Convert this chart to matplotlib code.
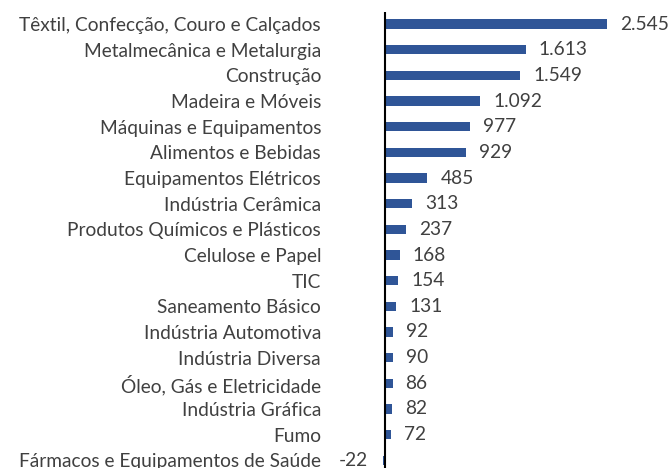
import matplotlib
matplotlib.use("Agg")
import matplotlib.pyplot as plt

categories = [
    "Têxtil, Confecção, Couro e Calçados",
    "Metalmecânica e Metalurgia",
    "Construção",
    "Madeira e Móveis",
    "Máquinas e Equipamentos",
    "Alimentos e Bebidas",
    "Equipamentos Elétricos",
    "Indústria Cerâmica",
    "Produtos Químicos e Plásticos",
    "Celulose e Papel",
    "TIC",
    "Saneamento Básico",
    "Indústria Automotiva",
    "Indústria Diversa",
    "Óleo, Gás e Eletricidade",
    "Indústria Gráfica",
    "Fumo",
    "Fármacos e Equipamentos de Saúde",
]
values = [2545, 1613, 1549, 1092, 977, 929, 485, 313, 237, 168, 154, 131, 92, 90, 86, 82, 72, -22]

plt.rcParams["font.family"] = ["Lato", "DejaVu Sans"]
text_color = "#404040"
bar_color = "#2F5597"
fs = 13.8

W, H = 670, 468
fig = plt.figure(figsize=(W / 100, H / 100), dpi=100)

# zero line at x=385px, 2545 ends at 607px
px_per_unit = (607 - 385) / 2545
x_left = -100
x_right = (W - 385) / px_per_unit
ax_left_px = 385 + x_left * px_per_unit
ax = fig.add_axes([ax_left_px / W, 0, (W - ax_left_px) / W, (H - 12) / H])

y = range(len(categories))
ax.barh(y, values, height=0.36, color=bar_color)
ax.axvline(0, color="black", lw=1.5)

for yi, v in zip(y, values):
    label = f"{v:,}".replace(",", ".")
    if v >= 0:
        ax.text(v + 13 / px_per_unit, yi, label, va="center", ha="left",
                fontsize=fs, color=text_color)
    else:
        ax.text(v - 15 / px_per_unit, yi, label, va="center", ha="right",
                fontsize=fs, color=text_color)

ax.set_xlim(x_left, x_right)
ax.set_ylim(17.3, -0.47)
ax.set_yticks(list(y))
ax.set_yticklabels(categories, fontsize=fs, color=text_color)
ax.tick_params(axis="y", length=0, pad=(ax_left_px - 321) * 0.72)
ax.set_xticks([])
for s in ax.spines.values():
    s.set_visible(False)

fig.savefig("out.png", dpi=100)
